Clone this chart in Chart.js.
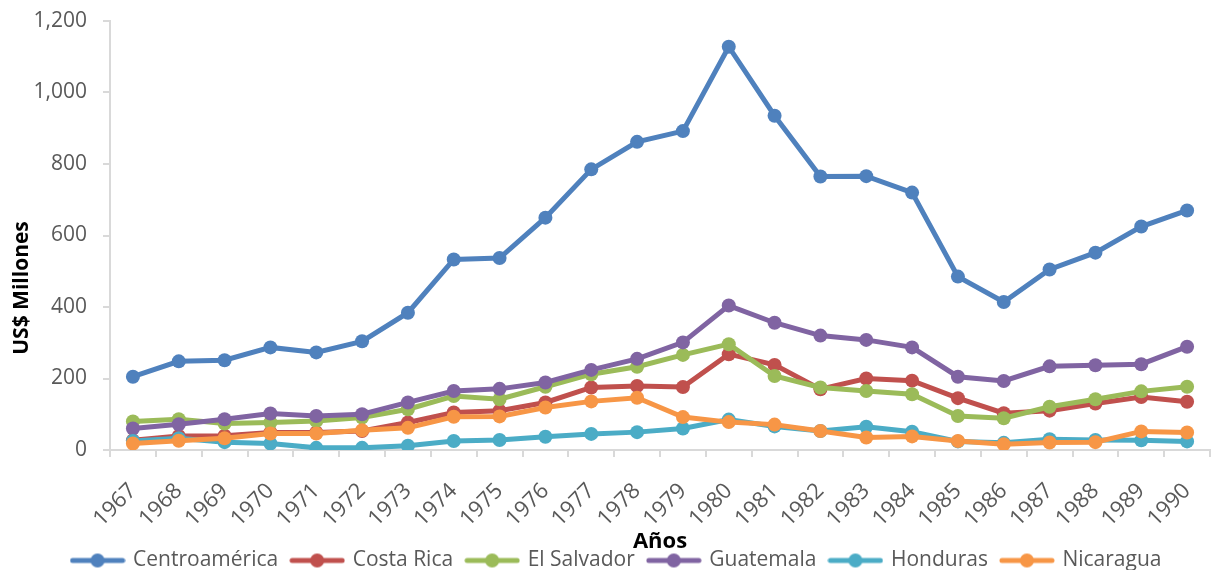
<!DOCTYPE html>
<html lang="es">
<head>
<meta charset="utf-8">
<title>Centroamérica 1967-1990</title>
<script src="https://cdn.jsdelivr.net/npm/chart.js@4.4.1/dist/chart.umd.min.js"></script>
<style>
  html, body { margin: 0; padding: 0; background: #ffffff; }
  #grafico { display: block; }
</style>
</head>
<body>
<canvas id="grafico" width="1212" height="570"></canvas>
<script>
// Años del eje horizontal
const anios = ['1967', '1968', '1969', '1970', '1971', '1972', '1973', '1974', '1975', '1976', '1977', '1978',
               '1979', '1980', '1981', '1982', '1983', '1984', '1985', '1986', '1987', '1988', '1989', '1990'];

// Series en millones de US$
const centroamerica = [205, 248, 251, 287, 273, 304, 384, 533, 537, 650, 785, 862,
                       892, 1128, 935, 765, 766, 720, 485, 414, 505, 552, 625, 670];
const costaRica     = [27, 39, 40, 49, 49, 53, 77, 105, 110, 133, 175, 179,
                       176, 268, 238, 170, 200, 194, 145, 103, 110, 130, 148, 135];
const elSalvador    = [80, 86, 74, 77, 81, 91, 114, 151, 142, 177, 212, 233,
                       266, 296, 207, 175, 165, 156, 95, 89, 121, 142, 164, 177];
const guatemala     = [60, 72, 86, 102, 95, 100, 133, 165, 171, 189, 224, 255,
                       301, 404, 356, 320, 308, 287, 205, 193, 234, 237, 240, 289];
const honduras      = [25, 33, 22, 18, 6, 6, 12, 25, 28, 37, 45, 50,
                       60, 85, 66, 53, 65, 51, 24, 20, 30, 28, 27, 24];
const nicaragua     = [18, 26, 33, 46, 46, 55, 62, 93, 94, 119, 136, 146,
                       92, 78, 71, 53, 35, 38, 25, 16, 21, 22, 52, 49];

// Rango y paso del eje vertical
const ejeMin = 0;
const ejeMax = 1200;
const ejePaso = 200;

const series = [
  { nombre: 'Centroamérica', datos: centroamerica, color: '#4F81BD' },
  { nombre: 'Costa Rica',    datos: costaRica,     color: '#C0504D' },
  { nombre: 'El Salvador',   datos: elSalvador,    color: '#9BBB59' },
  { nombre: 'Guatemala',     datos: guatemala,     color: '#8064A2' },
  { nombre: 'Honduras',      datos: honduras,      color: '#4BACC6' },
  { nombre: 'Nicaragua',     datos: nicaragua,     color: '#F79646' }
];

const FUENTE = "'Open Sans', 'Noto Sans', sans-serif";
const GRIS_TEXTO = '#595959';
const GRIS_EJE = '#D9D9D9';

// Marcador de leyenda: línea corta con un punto al centro
const crearMarcador = (color) => {
  const c = document.createElement('canvas');
  c.width = 56;
  c.height = 16;
  const g = c.getContext('2d');
  g.strokeStyle = color;
  g.lineWidth = 5;
  g.lineCap = 'round';
  g.beginPath();
  g.moveTo(3, 8);
  g.lineTo(53, 8);
  g.stroke();
  g.fillStyle = color;
  g.beginPath();
  g.arc(28, 8, 7, 0, Math.PI * 2);
  g.fill();
  return c;
};
const marcadores = series.map(s => crearMarcador(s.color));

// Títulos de los ejes, dibujados sobre el lienzo al final
const titulosEjes = {
  id: 'titulosEjes',
  afterDraw(chart) {
    const ctx = chart.ctx;
    ctx.save();
    ctx.fillStyle = '#000000';
    ctx.font = `bold 21px ${FUENTE}`;
    ctx.textAlign = 'center';
    ctx.textBaseline = 'middle';
    ctx.translate(22, 288);
    ctx.rotate(-Math.PI / 2);
    ctx.fillText('US$ Millones', 0, 0);
    ctx.restore();

    ctx.save();
    ctx.fillStyle = '#000000';
    ctx.font = `bold 22px ${FUENTE}`;
    ctx.textAlign = 'center';
    ctx.textBaseline = 'middle';
    ctx.fillText('Años', 660, 542);
    ctx.restore();
  }
};

const ctx = document.getElementById('grafico').getContext('2d');
new Chart(ctx, {
  type: 'line',
  data: {
    labels: anios,
    datasets: series.map((s, i) => ({
      label: s.nombre,
      data: s.datos,
      borderColor: s.color,
      backgroundColor: s.color,
      borderWidth: 5,
      pointRadius: 7,
      pointHoverRadius: 7,
      pointBorderWidth: 0,
      pointBackgroundColor: s.color,
      tension: 0,
      order: series.length - i // la última serie queda encima
    }))
  },
  options: {
    responsive: false,
    animation: false,
    devicePixelRatio: 1,
    layout: { autoPadding: false, padding: { top: 21, right: 2, left: 24, bottom: -11 } },
    plugins: {
      tooltip: { enabled: false },
      legend: {
        position: 'bottom',
        labels: {
          usePointStyle: true,
          pointStyleWidth: 50,
          padding: 14,
          color: GRIS_TEXTO,
          font: { family: FUENTE, size: 21 },
          sort: (a, b) => a.datasetIndex - b.datasetIndex,
          generateLabels: (chart) =>
            Chart.defaults.plugins.legend.labels.generateLabels(chart).map(l => ({
              ...l,
              pointStyle: marcadores[l.datasetIndex]
            }))
        }
      }
    },
    scales: {
      x: {
        type: 'category',
        offset: true,
        grid: {
          offset: true,
          drawOnChartArea: false,
          color: GRIS_EJE,
          tickLength: 7,
          lineWidth: 2
        },
        border: { color: GRIS_EJE, width: 2 },
        ticks: {
          color: GRIS_TEXTO,
          font: { family: FUENTE, size: 22 },
          minRotation: 45,
          maxRotation: 45,
          autoSkip: false,
          padding: 21
        },
        afterFit: (scale) => {
          scale.height = 86;
          scale.paddingLeft = 0;
          scale.paddingRight = 0;
        }
      },
      y: {
        min: ejeMin,
        max: ejeMax,
        grid: {
          drawOnChartArea: false,
          color: GRIS_EJE,
          tickLength: 7,
          lineWidth: 2
        },
        border: { color: GRIS_EJE, width: 2 },
        ticks: {
          stepSize: ejePaso,
          color: GRIS_TEXTO,
          font: { family: FUENTE, size: 21 },
          padding: 16,
          callback: (v) => v.toLocaleString('en-US')
        },
        afterFit: (scale) => {
          scale.width = 86;
          scale.paddingTop = 0;
          scale.paddingBottom = 0;
        }
      }
    }
  },
  plugins: [titulosEjes]
});
</script>
</body>
</html>
